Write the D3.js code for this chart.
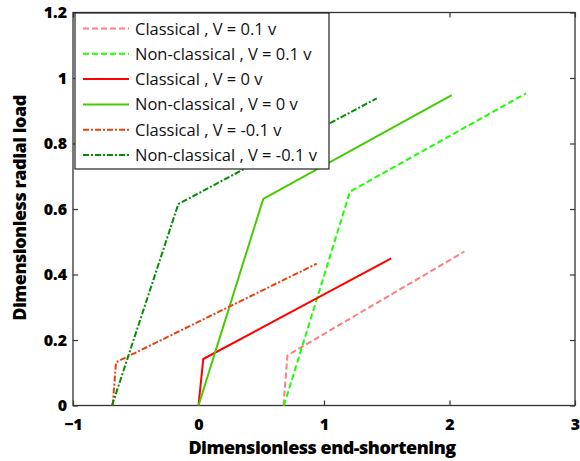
<!DOCTYPE html>
<html>
<head>
<meta charset="utf-8">
<script src="https://cdn.jsdelivr.net/npm/d3@7"></script>
<style>
  html, body { margin: 0; padding: 0; background: #fff; }
  svg { display: block; }
  .tick-label { font-family: "Open Sans", Lato, sans-serif; font-weight: 800; font-size: 16px; fill: #000; }
  .axis-title { font-family: "Open Sans", Lato, sans-serif; font-weight: 800; font-size: 18px; fill: #000; letter-spacing: -0.5px; }
  .legend-text { font-family: "Open Sans", Lato, sans-serif; font-size: 16.5px; fill: #111; }
</style>
</head>
<body>
<svg id="chart" width="580" height="461"></svg>
<script>
// Load–shortening curves: end-shortening (x) vs radial load (y)
const seriesNames = [
  "Classical , V = 0.1 v",
  "Non-classical , V = 0.1 v",
  "Classical , V = 0 v",
  "Non-classical , V = 0 v",
  "Classical , V = -0.1 v",
  "Non-classical , V = -0.1 v"
];
const classicalPosX = [0.677, 0.709, 2.118];
const classicalPosY = [0, 0.153, 0.470];
const nonClassicalPosX = [0.681, 1.207, 2.610];
const nonClassicalPosY = [0, 0.653, 0.953];
const classicalZeroX = [0, 0.038, 1.536];
const classicalZeroY = [0, 0.142, 0.449];
const nonClassicalZeroX = [0, 0.516, 2.018];
const nonClassicalZeroY = [0, 0.631, 0.948];
const classicalNegX = [-0.684, -0.657, 0.942];
const classicalNegY = [0, 0.132, 0.433];
const nonClassicalNegX = [-0.689, -0.161, 1.420];
const nonClassicalNegY = [0, 0.615, 0.938];

const xTicks = [-1, 0, 1, 2, 3];
const yTicks = [0, 0.2, 0.4, 0.6, 0.8, 1, 1.2];
const xTitle = "Dimensionless end-shortening";
const yTitle = "Dimensionless radial load";

const seriesX = [classicalPosX, nonClassicalPosX, classicalZeroX, nonClassicalZeroX, classicalNegX, nonClassicalNegX];
const seriesY = [classicalPosY, nonClassicalPosY, classicalZeroY, nonClassicalZeroY, classicalNegY, nonClassicalNegY];
const colors = ["#ff7d7d", "#1aff00", "#ff0000", "#44cc00", "#e8420e", "#008f00"];
const dashes = ["6,3", "6,3", null, null, "6,2,2,2", "6,2,2,2"];

const svg = d3.select("#chart");
const plot = { left: 73, right: 575, top: 12.5, bottom: 405.5 };

const x = d3.scaleLinear().domain([-1, 3]).range([plot.left, plot.right]);
const y = d3.scaleLinear().domain([0, 1.2]).range([plot.bottom, plot.top]);

// frame
svg.append("rect")
  .attr("x", plot.left).attr("y", plot.top)
  .attr("width", plot.right - plot.left).attr("height", plot.bottom - plot.top)
  .attr("fill", "none").attr("stroke", "#333").attr("stroke-width", 1.3);

// axes with inward ticks on all four sides
const tickLen = 5;
const g = svg.append("g");
const axisBottom = d3.axisBottom(x).tickValues(xTicks).tickSize(-tickLen).tickFormat(d3.format("d")).tickPadding(13);
const axisTop = d3.axisTop(x).tickValues(xTicks).tickSize(-tickLen).tickFormat("");
const axisLeft = d3.axisLeft(y).tickValues(yTicks).tickSize(-tickLen).tickFormat(d => d === 0 || d === 1 ? d3.format("d")(d) : d3.format(".1f")(d)).tickPadding(6);
const axisRight = d3.axisRight(y).tickValues(yTicks).tickSize(-tickLen).tickFormat("");

function styleAxis(sel) {
  sel.select(".domain").remove();
  sel.selectAll(".tick line").attr("stroke", "#333").attr("stroke-width", 1.2);
  sel.selectAll(".tick text").attr("class", "tick-label").attr("font-family", null).attr("font-size", null);
}
g.append("g").attr("transform", `translate(0,${plot.bottom})`).call(axisBottom).call(styleAxis);
g.append("g").attr("transform", `translate(0,${plot.top})`).call(axisTop).call(styleAxis);
g.append("g").attr("transform", `translate(${plot.left},0)`).call(axisLeft).call(styleAxis);
g.append("g").attr("transform", `translate(${plot.right},0)`).call(axisRight).call(styleAxis);

// axis titles
svg.append("text").attr("class", "axis-title")
  .attr("x", 322).attr("y", 454).attr("text-anchor", "middle").text(xTitle);
svg.append("text").attr("class", "axis-title")
  .attr("transform", "translate(26,208) rotate(-90)").attr("text-anchor", "middle").text(yTitle);

// curves
const line = d3.line().x(d => x(d[0])).y(d => y(d[1]));
seriesX.forEach((xs, i) => {
  const pts = xs.map((v, k) => [v, seriesY[i][k]]);
  svg.append("path")
    .attr("d", line(pts))
    .attr("fill", "none")
    .attr("stroke", colors[i])
    .attr("stroke-width", 2)
    .attr("stroke-dasharray", dashes[i]);
});

// legend
const lg = svg.append("g");
lg.append("rect").attr("x", 75).attr("y", 13).attr("width", 254).attr("height", 156)
  .attr("fill", "#fff").attr("stroke", "#222").attr("stroke-width", 1.2);
seriesNames.forEach((name, i) => {
  const cy = 28.5 + i * 25.3;
  lg.append("line").attr("x1", 83).attr("x2", 129).attr("y1", cy).attr("y2", cy)
    .attr("stroke", colors[i]).attr("stroke-width", 2).attr("stroke-dasharray", dashes[i]);
  lg.append("text").attr("class", "legend-text").attr("x", 135).attr("y", cy + 6).text(name);
});
</script>
</body>
</html>
